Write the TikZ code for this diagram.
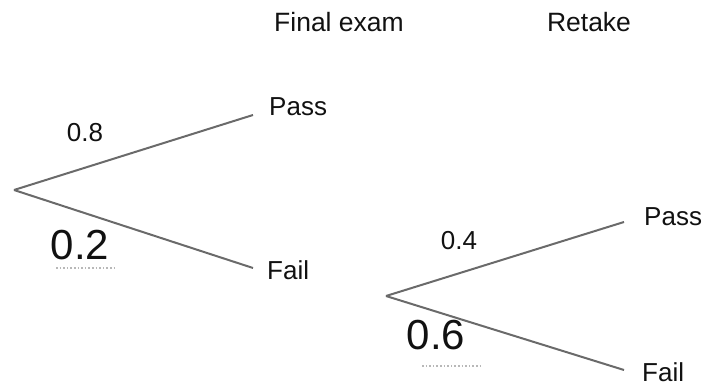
\documentclass[tikz,border=0pt]{standalone}
\usepackage{fontspec}
\setmainfont{Liberation Sans}
\usepackage{xcolor}
\usetikzlibrary{positioning,calc}
\definecolor{ink}{HTML}{111111}
\definecolor{branchgray}{HTML}{6A6A6A}
\definecolor{dotgray}{HTML}{B8B8B8}
\tikzset{
  every node/.style={text=ink,inner sep=0pt},
  outcome/.style={anchor=west,font=\fontsize{26}{30}\selectfont},
  head/.style={font=\fontsize{26.5}{30}\selectfont},
  prob/.style={font=\fontsize{26}{30}\selectfont},
  bigprob/.style={font=\fontsize{42}{46}\selectfont},
  branch/.style={draw=branchgray,line width=2pt},
  blank/.style={draw=dotgray,line width=1.6pt,dotted}
}
\begin{document}
\begin{tikzpicture}[x=1pt,y=-1pt]
  \useasboundingbox (0,0) rectangle (718,387);
  % column headings
  \node[head] (hexam) at (339,22) {Final exam};
  \node[head] (hretake) at (589,22) {Retake};

  % first tree: final exam
  \coordinate (root) at (14,190);
  \coordinate (exampass) at (253,115);
  \coordinate (examfail) at (253,268);
  \node[outcome,right=16pt of exampass,yshift=8pt] (lpass) {Pass};
  \node[outcome,right=14pt of examfail,yshift=-2pt] (lfail) {Fail};
  \draw[branch] (root) -- (exampass);
  \draw[branch] (root) -- (examfail);
  \node[prob] (p08) at (85,133) {0.8};
  \node[bigprob] (p02) at (80,245) {0.2};
  \coordinate (b02l) at (56,268);
  \coordinate (b02r) at (114,268);
  \draw[blank] (b02l) -- (b02r);

  % second tree: retake
  \coordinate (rroot) at (386,296);
  \coordinate (retpass) at (624,222);
  \coordinate (retfail) at (624,370);
  \node[outcome,right=20pt of retpass,yshift=5pt] (rpass) {Pass};
  \node[outcome,right=18pt of retfail,yshift=-2pt] (rfail) {Fail};
  \draw[branch] (rroot) -- (retpass);
  \draw[branch] (rroot) -- (retfail);
  \node[prob] (p04) at (459,241) {0.4};
  \node[bigprob] (p06) at (436,335) {0.6};
  \coordinate (b06l) at (422,366);
  \coordinate (b06r) at (480,366);
  \draw[blank] (b06l) -- (b06r);
\end{tikzpicture}
\end{document}
